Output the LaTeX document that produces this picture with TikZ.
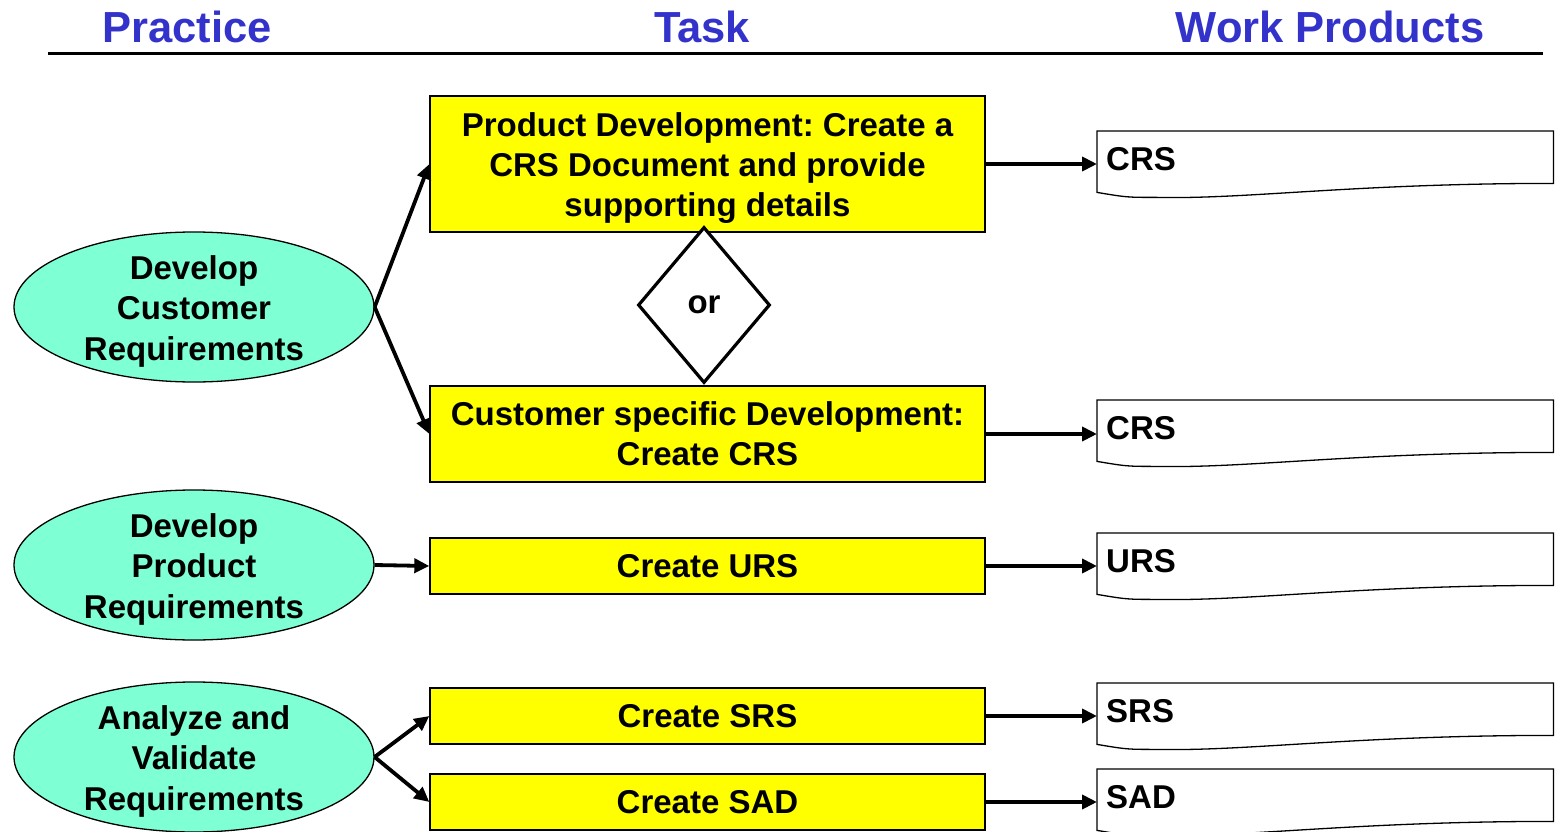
\documentclass[tikz,border=0pt]{standalone}
\usepackage{fontspec}
\setmainfont{Liberation Sans}
\usetikzlibrary{shapes.geometric,arrows.meta,calc}
\frenchspacing
\definecolor{titleblue}{RGB}{51,51,204}
\definecolor{aqua}{RGB}{127,255,212}
\definecolor{boxyellow}{RGB}{255,255,0}
\newcommand{\lowerfirst}{\rule{0pt}{32pt}}
\tikzset{
  title/.style={font=\fontsize{43.5}{48}\selectfont\bfseries, text=titleblue, inner sep=0},
  practice/.style={ellipse, draw, line width=1.3pt, fill=aqua, minimum width=360, minimum height=150, inner xsep=0pt, inner ysep=-20pt, align=center, font=\fontsize{33}{40.5}\selectfont\bfseries},
  taskbox/.style={rectangle, draw, line width=1.3pt, fill=boxyellow, minimum width=555, inner sep=0, align=center, font=\fontsize{33}{40}\selectfont\bfseries},
  docbox/.style={rectangle, draw=none, minimum width=456, minimum height=66, inner sep=0, anchor=north west},
  doctext/.style={anchor=west, inner sep=0, font=\fontsize{33}{40}\selectfont\bfseries},
  conn/.style={line width=3.8pt, -{Triangle[length=15pt,width=14pt]}},
  ornode/.style={diamond, draw, line width=3.2pt, fill=white, minimum width=132, minimum height=156, inner sep=0, font=\fontsize{33}{40}\selectfont\bfseries}
}
\newcommand{\docshape}[1]{%
  \draw[line width=1.3pt, fill=white] (#1.north west) -- (#1.north east) -- ([yshift=14]#1.south east)
    .. controls ([xshift=-200,yshift=14]#1.south east) and ([xshift=150,yshift=-2]#1.south west) .. ([xshift=60]#1.south west)
    .. controls ([xshift=30]#1.south west) .. ([yshift=5]#1.south west) -- cycle;}
\begin{document}
\begin{tikzpicture}[x=1pt,y=-1pt]
\useasboundingbox (0,0) rectangle (1559,832);
\fill[white] (0,0) rectangle (1559,832);
% titles
\node[title] (hp) at (187,27) {Practice};
\node[title] (ht) at (702,27) {Task};
\node[title] (hw) at (1330,27) {Work Products};
\coordinate (l1) at (48,54);
\coordinate (l2) at (1543,54);
\draw[line width=3pt] (l1) -- (l2);
% practices
\node[practice] (e1) at (194,307) {\lowerfirst Develop\\Customer\\Requirements};
\node[practice] (e2) at (194,565) {\lowerfirst Develop\\Product\\Requirements};
\node[practice] (e3) at (194,757) {\lowerfirst Analyze and\\Validate\\Requirements};
% tasks
\node[taskbox, minimum height=136] (b1) at (707.5,164) {\lowerfirst Product Development: Create a\\CRS Document and provide\\supporting details};
\node[taskbox, minimum height=96] (b2) at (707.5,434) {Customer specific Development:\\Create CRS};
\node[taskbox, minimum height=56] (b3) at (707.5,566) {Create URS};
\node[taskbox, minimum height=56] (b4) at (707.5,716) {Create SRS};
\node[taskbox, minimum height=56] (b5) at (707.5,802) {Create SAD};
\node[ornode] (or) at (704,305) {or};
% work products
\node[docbox] (d1) at (1097,131) {};
\node[docbox] (d2) at (1097,400) {};
\node[docbox] (d3) at (1097,533) {};
\node[docbox] (d4) at (1097,683) {};
\node[docbox] (d5) at (1097,769) {};
\docshape{d1}\docshape{d2}\docshape{d3}\docshape{d4}\docshape{d5}
\node[doctext] (t1) at ([xshift=9,yshift=-28]d1.north west) {CRS};
\node[doctext] (t2) at ([xshift=9,yshift=-28]d2.north west) {CRS};
\node[doctext] (t3) at ([xshift=9,yshift=-28]d3.north west) {URS};
\node[doctext] (t4) at ([xshift=9,yshift=-28]d4.north west) {SRS};
\node[doctext] (t5) at ([xshift=9,yshift=-28]d5.north west) {SAD};
% connectors
\draw[conn] (e1.east) -- (b1.west);
\draw[conn] (e1.east) -- (b2.west);
\draw[conn] (e2.east) -- (b3.west);
\draw[conn] (e3.east) -- (b4.west);
\draw[conn] (e3.east) -- (b5.west);
\draw[conn] (b1.east) -- (b1.east -| d1.west);
\draw[conn] (b2.east) -- (b2.east -| d2.west);
\draw[conn] (b3.east) -- (b3.east -| d3.west);
\draw[conn] (b4.east) -- (b4.east -| d4.west);
\draw[conn] (b5.east) -- (b5.east -| d5.west);
\end{tikzpicture}
\end{document}
